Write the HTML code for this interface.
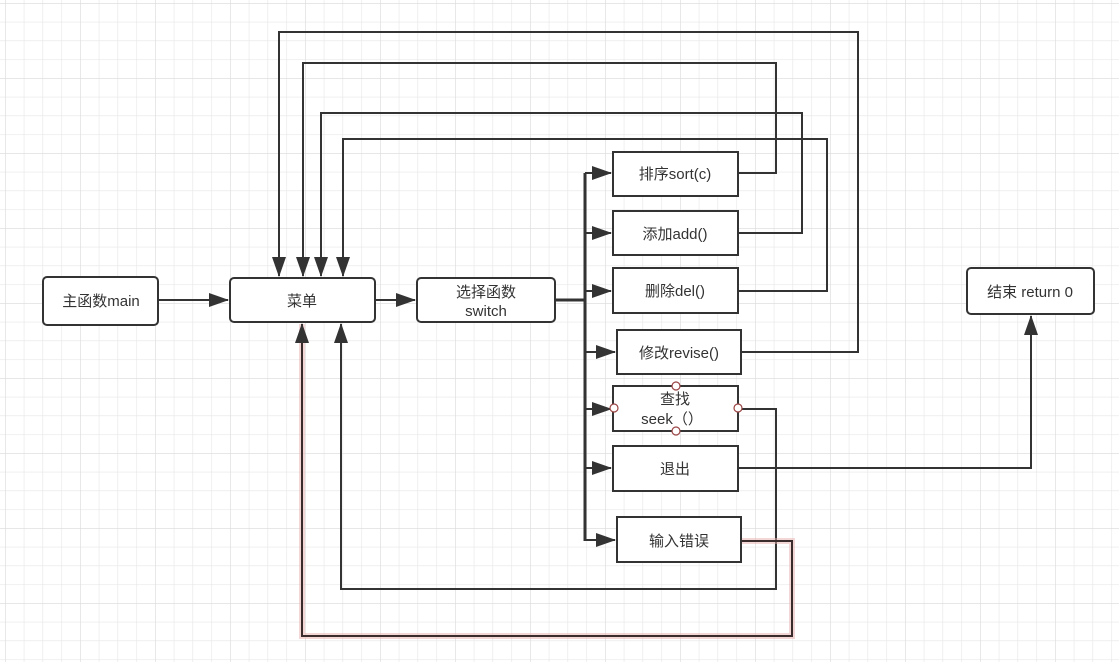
<!DOCTYPE html>
<html><head><meta charset="utf-8"><style>
html,body{margin:0;padding:0;background:#fff;}
svg{display:block;}
text{font-family:"Liberation Sans","Noto Sans CJK SC",sans-serif;font-size:15px;fill:#333;text-anchor:middle;}
</style></head><body>
<svg width="1119" height="662" viewBox="0 0 1119 662" xmlns="http://www.w3.org/2000/svg">
<defs>
<pattern id="g" x="5" y="3" width="18.75" height="18.75" patternUnits="userSpaceOnUse">
<path d="M0 0H18.75M0 0V18.75" stroke="#e6e6e6" stroke-width="1.2" fill="none"/>
</pattern>
<pattern id="g2" x="5" y="3" width="75" height="75" patternUnits="userSpaceOnUse">
<path d="M0 0H75M0 0V75" stroke="#dcdcdc" stroke-width="1.2" fill="none"/>
</pattern>
<marker id="b" markerWidth="20" markerHeight="14" refX="19" refY="7" orient="auto" markerUnits="userSpaceOnUse" viewBox="0 0 20 14">
<path d="M0 0L20 7L0 14Z" fill="#333"/>
</marker>
</defs>
<rect width="1119" height="662" fill="url(#g)"/>
<rect width="1119" height="662" fill="url(#g2)"/>
<g fill="none" stroke="#333" stroke-width="2">
<path d="M158 300H228" marker-end="url(#b)"/>
<path d="M375 300H415" marker-end="url(#b)"/>
<path d="M555 300H585" stroke-width="3"/>
<path d="M585 173V541" stroke-width="3"/>
<path d="M585 173H611" marker-end="url(#b)"/>
<path d="M585 233H611" marker-end="url(#b)"/>
<path d="M585 291H611" marker-end="url(#b)"/>
<path d="M585 352H615" marker-end="url(#b)"/>
<path d="M585 409H611" marker-end="url(#b)"/>
<path d="M585 468H611" marker-end="url(#b)"/>
<path d="M585 540H615" marker-end="url(#b)"/>
<path d="M738 173H776V63H303V276" marker-end="url(#b)"/>
<path d="M738 233H802V113H321V276" marker-end="url(#b)"/>
<path d="M738 291H827V139H343V276" marker-end="url(#b)"/>
<path d="M741 352H858V32H279V276" marker-end="url(#b)"/>
<path d="M738 409H776V589H341V324" marker-end="url(#b)"/>
<path d="M738 468H1031V316" marker-end="url(#b)"/>
<path d="M741 541H792V636H302V324" stroke="#e8b0b0" stroke-width="6" opacity="0.5"/>
<path d="M741 541H792V636H302V324" stroke="#3a2c2c" marker-end="url(#b)"/>
</g>
<g fill="#fff" stroke="#333" stroke-width="2">
<rect x="43" y="277" width="115" height="48" rx="4"/>
<rect x="230" y="278" width="145" height="44" rx="4"/>
<rect x="417" y="278" width="138" height="44" rx="4"/>
<rect x="613" y="152" width="125" height="44"/>
<rect x="613" y="211" width="125" height="44"/>
<rect x="613" y="268" width="125" height="45"/>
<rect x="617" y="330" width="124" height="44"/>
<rect x="613" y="386" width="125" height="45"/>
<rect x="613" y="446" width="125" height="45"/>
<rect x="617" y="517" width="124" height="45"/>
<rect x="967" y="268" width="127" height="46" rx="4"/>
</g>
<text x="101" y="306">主函数main</text>
<text x="302" y="306">菜单</text>
<text x="486" y="297">选择函数</text>
<text x="486" y="316">switch</text>
<text x="675" y="179">排序sort(c)</text>
<text x="675" y="239">添加add()</text>
<text x="675" y="296">删除del()</text>
<text x="679" y="358">修改revise()</text>
<text x="675" y="404">查找</text>
<text x="672" y="424">seek（）</text>
<text x="675" y="474">退出</text>
<text x="679" y="546">输入错误</text>
<text x="1030" y="297">结束 return 0</text>
<g fill="#fff" stroke="#9a4444" stroke-width="1.2">
<circle cx="676" cy="386" r="4"/>
<circle cx="676" cy="431" r="4"/>
<circle cx="614" cy="408" r="4"/>
<circle cx="738" cy="408" r="4"/>
</g>
</svg>
</body></html>
